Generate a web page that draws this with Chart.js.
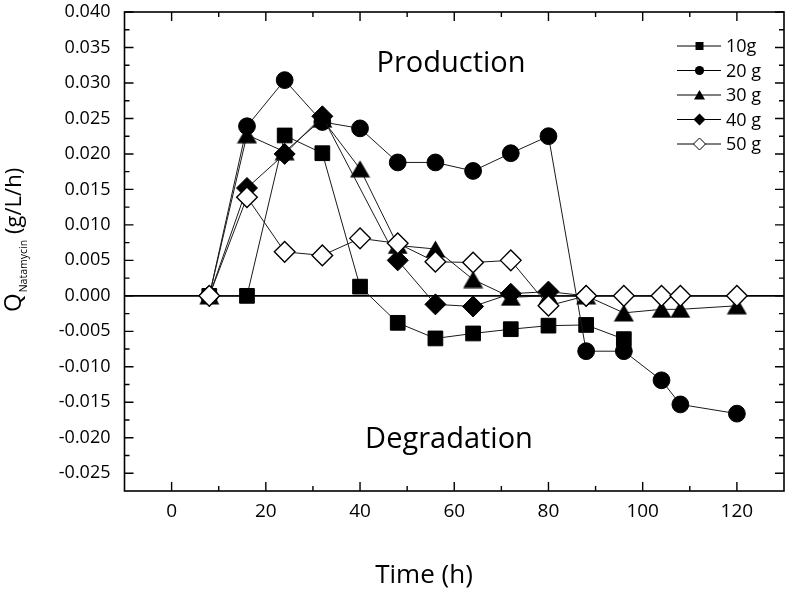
<!DOCTYPE html>
<html><head><meta charset="utf-8">
<script src="https://cdn.jsdelivr.net/npm/chart.js@4.4.1/dist/chart.umd.min.js"></script>
<style>html,body{margin:0;padding:0;background:#fff;}#wrap{width:787px;height:589px;}</style>
</head><body><div id="wrap"><canvas id="c" width="787" height="589"></canvas></div>
<script>
// ---- data ----
const seriesLabels = ['10g', '20 g', '30 g', '40 g', '50 g'];
const times10 = [8,16,24,32,40,48,56,64,72,80,88,96];
const q10 = [0.0000,0.0000,0.0226,0.0201,0.0013,-0.0038,-0.0060,-0.0053,-0.0047,-0.0042,-0.0041,-0.0061];
const times20 = [8,16,24,32,40,48,56,64,72,80,88,96,104,108,120];
const q20 = [0.0000,0.0239,0.0304,0.0245,0.0236,0.0188,0.0188,0.0176,0.0201,0.0225,-0.0078,-0.0078,-0.0119,-0.0153,-0.0166];
const times30 = [8,16,24,32,40,48,56,64,72,80,88,96,104,108,120];
const q30 = [0.0000,0.0227,0.0203,0.0249,0.0179,0.0071,0.0066,0.0023,-0.0002,0.0000,0.0000,-0.0024,-0.0019,-0.0019,-0.0014];
const times40 = [8,16,24,32,48,56,64,72,80,88];
const q40 = [0.0000,0.0152,0.0200,0.0253,0.0050,-0.0012,-0.0015,0.0003,0.0006,0.0000];
const times50 = [8,16,24,32,40,48,56,64,72,80,88,96,104,108,120];
const q50 = [0.0000,0.0139,0.0062,0.0057,0.0081,0.0074,0.0048,0.0047,0.0050,-0.0014,0.0000,0.0000,0.0000,0.0000,0.0000];

const xTicks = [0,20,40,60,80,100,120];
const xMinorTicks = [10,30,50,70,90,110];
const yTicks = [-0.025,-0.020,-0.015,-0.010,-0.005,0.000,0.005,0.010,0.015,0.020,0.025,0.030,0.035,0.040];
const yMinorTicks = [-0.0225,-0.0175,-0.0125,-0.0075,-0.0025,0.0025,0.0075,0.0125,0.0175,0.0225,0.0275,0.0325,0.0375];
const xTitle = 'Time (h)';
const yTitleMain = 'Q';
const yTitleSub = 'Natamycin';
const yTitleUnit = '(g/L/h)';
const noteTop = 'Production';
const noteBottom = 'Degradation';

// ---- styling ----
const FONT = '"Open Sans", "DejaVu Sans", sans-serif';
function triangleImage(w, h) {
  const c = document.createElement('canvas');
  c.width = w; c.height = h;
  const g = c.getContext('2d');
  g.beginPath();
  g.moveTo(w / 2, 0.5);
  g.lineTo(w - 0.5, h - 0.5);
  g.lineTo(0.5, h - 0.5);
  g.closePath();
  g.fillStyle = '#000';
  g.fill();
  return c;
}
const triImg = triangleImage(21, 18);

function pts(t, q) { return t.map((v, i) => ({ x: v, y: q[i] })); }

const markerDefs = [
  { style: 'rect', radius: 10.4, fill: '#000', border: '#000', bw: 1 },
  { style: 'circle', radius: 8.4, fill: '#000', border: '#000', bw: 1 },
  { style: triImg, radius: 10, fill: '#000', border: '#000', bw: 1 },
  { style: 'rectRot', radius: 10.5, fill: '#000', border: '#000', bw: 1 },
  { style: 'rectRot', radius: 10.3, fill: '#fff', border: '#000', bw: 1.4 }
];
const allData = [pts(times10, q10), pts(times20, q20), pts(times30, q30), pts(times40, q40), pts(times50, q50)];

const datasets = allData.map((d, i) => ({
  label: seriesLabels[i],
  data: d,
  order: 5 - i,
  showLine: true,
  borderColor: '#1a1a1a',
  borderWidth: 1,
  pointStyle: markerDefs[i].style,
  pointRadius: markerDefs[i].radius,
  pointHoverRadius: markerDefs[i].radius,
  pointBackgroundColor: markerDefs[i].fill,
  pointBorderColor: markerDefs[i].border,
  pointBorderWidth: markerDefs[i].bw,
  tension: 0,
  fill: false
}));

function drawLegendMarker(ctx, i, x, y) {
  ctx.save();
  ctx.fillStyle = '#000'; ctx.strokeStyle = '#000'; ctx.lineWidth = 1;
  ctx.beginPath();
  if (i === 0) { ctx.rect(x - 4, y - 4, 8, 8); ctx.fill(); }
  else if (i === 1) { ctx.arc(x, y, 4.6, 0, Math.PI * 2); ctx.fill(); }
  else if (i === 2) { ctx.moveTo(x, y - 5); ctx.lineTo(x + 5.5, y + 4.5); ctx.lineTo(x - 5.5, y + 4.5); ctx.closePath(); ctx.fill(); }
  else if (i === 3) { ctx.moveTo(x, y - 6); ctx.lineTo(x + 6, y); ctx.lineTo(x, y + 6); ctx.lineTo(x - 6, y); ctx.closePath(); ctx.fill(); }
  else { ctx.moveTo(x, y - 6); ctx.lineTo(x + 6, y); ctx.lineTo(x, y + 6); ctx.lineTo(x - 6, y); ctx.closePath(); ctx.fillStyle = '#fff'; ctx.fill(); ctx.stroke(); }
  ctx.restore();
}

const decor = {
  id: 'decor',
  beforeDatasetsDraw(chart) {
    const { ctx, chartArea: a, scales: { y } } = chart;
    const py = y.getPixelForValue(0);
    ctx.save();
    ctx.strokeStyle = '#000'; ctx.lineWidth = 1.6;
    ctx.beginPath(); ctx.moveTo(a.left, py); ctx.lineTo(a.right, py); ctx.stroke();
    ctx.restore();
  },
  afterDraw(chart) {
    const { ctx, chartArea: a, scales: { x, y } } = chart;
    ctx.save();
    ctx.strokeStyle = '#000'; ctx.lineWidth = 1.6;
    ctx.strokeRect(a.left, a.top, a.right - a.left, a.bottom - a.top);
    ctx.lineWidth = 1.4;
    ctx.beginPath();
    const tick = (vals, len, isX) => vals.forEach(v => {
      if (isX) {
        const p = x.getPixelForValue(v);
        ctx.moveTo(p, a.bottom); ctx.lineTo(p, a.bottom - len);
        ctx.moveTo(p, a.top); ctx.lineTo(p, a.top + len);
      } else {
        const p = y.getPixelForValue(v);
        ctx.moveTo(a.left, p); ctx.lineTo(a.left + len, p);
        ctx.moveTo(a.right, p); ctx.lineTo(a.right - len, p);
      }
    });
    tick(xTicks, 9, true); tick(xMinorTicks, 5, true);
    tick(yTicks, 9, false); tick(yMinorTicks, 5, false);
    ctx.stroke();

    // legend
    ctx.fillStyle = '#000';
    ctx.font = '18px ' + FONT;
    ctx.textBaseline = 'middle'; ctx.textAlign = 'left';
    chart.data.datasets.forEach((ds, i) => {
      const ly = 46 + i * 24.5;
      ctx.lineWidth = 1;
      ctx.beginPath(); ctx.moveTo(677, ly); ctx.lineTo(721, ly); ctx.stroke();
      drawLegendMarker(ctx, i, 699.5, ly);
      ctx.fillStyle = '#000';
      ctx.fillText(ds.label, 726, ly + 1);
    });

    // annotations
    ctx.font = '29px ' + FONT;
    ctx.textAlign = 'center'; ctx.textBaseline = 'alphabetic';
    ctx.fillText(noteTop, 451, 72);
    ctx.fillText(noteBottom, 449, 448);

    // x title
    ctx.font = '26px ' + FONT;
    ctx.fillText(xTitle, 424, 583);

    // y title (rotated, with subscript)
    ctx.translate(21, 312);
    ctx.rotate(-Math.PI / 2);
    ctx.textAlign = 'left';
    ctx.font = '24px ' + FONT;
    ctx.fillText(yTitleMain, 0, 0);
    const w1 = ctx.measureText(yTitleMain).width;
    ctx.font = '10.5px ' + FONT;
    ctx.fillText(yTitleSub, w1 + 1, 6);
    const w2 = ctx.measureText(yTitleSub).width;
    ctx.font = '22px ' + FONT;
    ctx.fillText(yTitleUnit, w1 + w2 + 7, 0);
    ctx.restore();
  }
};

new Chart(document.getElementById('c'), {
  type: 'scatter',
  data: { datasets },
  options: {
    responsive: false,
    animation: false,
    devicePixelRatio: 1,
    layout: { autoPadding: false, padding: { left: 0, right: 3, top: 12, bottom: 0 } },
    plugins: { legend: { display: false }, tooltip: { enabled: false } },
    scales: {
      x: {
        type: 'linear', min: -10, max: 130,
        grid: { display: false, drawTicks: false },
        border: { display: false },
        ticks: { color: '#000', font: { family: FONT, size: 19 }, padding: 9, maxRotation: 0, autoSkip: false },
        afterBuildTicks: s => { s.ticks = xTicks.map(v => ({ value: v })); },
        afterFit: s => { s.height = 98; s.paddingLeft = 0; s.paddingRight = 0; }
      },
      y: {
        type: 'linear', min: -0.0275, max: 0.040,
        grid: { display: false, drawTicks: false },
        border: { display: false },
        ticks: { color: '#000', font: { family: FONT, size: 18 }, padding: 14, autoSkip: false,
          callback: v => Number(v).toFixed(3) },
        afterBuildTicks: s => { s.ticks = yTicks.map(v => ({ value: v })); },
        afterFit: s => { s.width = 124.5; s.paddingTop = 0; s.paddingBottom = 0; }
      }
    }
  },
  plugins: [decor]
});
</script></body></html>
